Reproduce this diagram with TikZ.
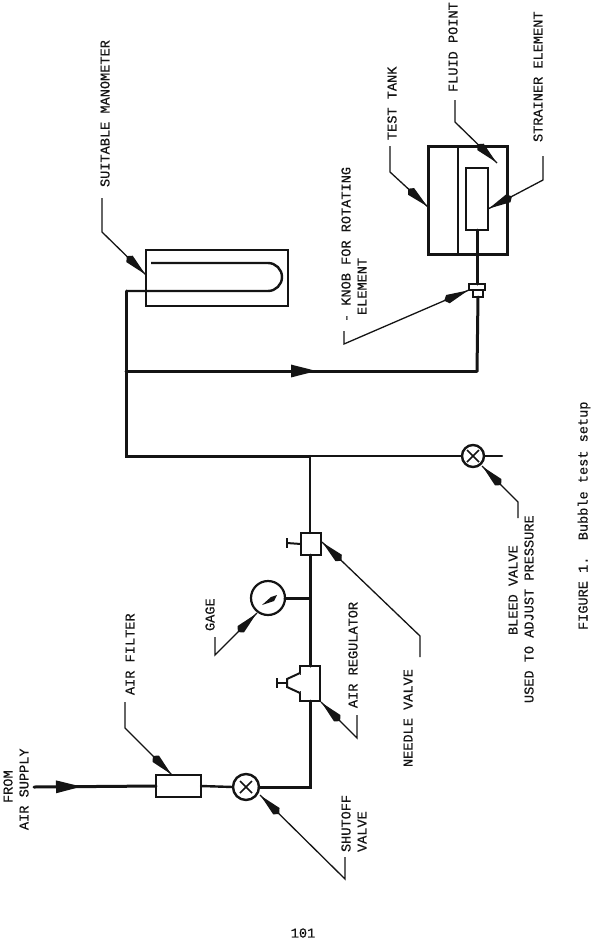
\documentclass[tikz,border=0pt]{standalone}
\usepackage{fontspec}
\newfontfamily\labfont[FakeBold=0.35]{Liberation Mono}
\usetikzlibrary{arrows.meta,decorations.markings}
\definecolor{ink}{HTML}{141414}
\tikzset{
  pipe/.style={draw=ink,line width=3pt,line cap=round,line join=miter},
  box/.style={draw=ink,line width=2.4pt,fill=white,inner sep=0,outer sep=0},
  leaderline/.style={draw=ink,line width=1.3pt,line join=miter},
  leader/.style={leaderline,postaction={decorate},decoration={markings,
     mark=at position #1 with {\arrow[ink]{Kite[length=26pt,width=9pt,inset=4pt]}}}},
  lab/.style={font=\labfont\fontsize{13.6}{13.6}\selectfont,text=ink,rotate=90,anchor=west,inner sep=0,outer sep=0},
  flow/.style={pipe,postaction={decorate},decoration={markings,
     mark=at position #1 with {\arrow[ink]{Triangle[length=26pt,width=12pt]}}}},
  valve/.style={circle,draw=ink,line width=2.4pt,fill=white,minimum size=26pt,inner sep=0,outer sep=0},
}
\begin{document}
\begin{tikzpicture}[x=1pt,y=-1pt]
\useasboundingbox (0,0) rectangle (593,940);
\fill[white] (0,0) rectangle (593,940);

% named junctions
\coordinate (in) at (34,787);
\coordinate (corner) at (310,787);
\coordinate (tee) at (310,456);
\coordinate (left) at (126,456);
\coordinate (branch) at (126,371);
\coordinate (manoIn) at (126,291);
\coordinate (branchR) at (477,371);
\coordinate (bleedEnd) at (502,456);

% main nodes
\node[box,minimum width=45pt,minimum height=22pt] (filter) at (178.5,786) {};
\node[valve] (shutoff) at (246,787) {};
\node[box,minimum width=20pt,minimum height=35pt] (reg) at (310,683.5) {};
\node[box,minimum width=20pt,minimum height=22pt] (needle) at (311,544) {};
\node[circle,draw=ink,line width=2.2pt,fill=white,minimum size=34pt,inner sep=0,outer sep=0] (gage) at (268,598) {};
\node[valve,minimum size=22pt] (bleed) at (473,456) {};
\node[box,line width=2.6pt,minimum width=142pt,minimum height=56pt] (mano) at (217,278) {};
\node[box,line width=3pt,minimum width=79pt,minimum height=108pt] (tank) at (467.5,200) {};
\node[box,minimum width=22pt,minimum height=62pt] (strainer) at (477,199) {};
\node[box,line width=1.8pt,minimum width=10pt,minimum height=8pt] (knobB) at (478,293) {};
\node[box,line width=1.8pt,minimum width=16pt,minimum height=6pt] (knobT) at (477,287) {};

% pipes
\draw[flow=48pt] (in) -- (filter.west);
\draw[pipe,line width=2.4pt] (filter.east) -- (shutoff.west);
\draw[pipe] (shutoff.east) -- (corner) -- (reg.south);
\draw[pipe] (reg.north) -- (needle.south -| reg.north);
\draw[pipe,line width=2.4pt] (needle.north -| reg.north) -- (tee);
\draw[pipe] (gage.east) -- (310,598);
\draw[pipe,line width=2.4pt] (tee) -- (bleed.west);
\draw[pipe,line width=2.4pt] (bleed.east) -- (bleedEnd);
\draw[pipe] (tee) -- (left) -- (manoIn);
\draw[flow=191pt] (branch) -- (branchR);
\draw[pipe] (branchR) -- (knobB.south);
\draw[pipe] (knobT.north) -- (tank.south -| knobT.north);
\draw[pipe] (tank.south -| knobT.north) -- (strainer.south);

% manometer tube
\draw[pipe,line width=2.4pt,line cap=butt] (manoIn) -- (268,291) arc[start angle=-90,end angle=90,radius=14pt] -- (151,263);

% tank fluid level
\draw[draw=ink,line width=1.8pt] (458,146) -- (458,254);

% gage needle
\draw[draw=none,fill=ink] (262,605) -- (271,597) -- (277,595) -- (274,601) -- cycle;

% shutoff and bleed crosses
\foreach \v in {shutoff,bleed}{
  \draw[draw=ink,line width=1.5pt] (\v.center) ++(-6,-6) -- ++(12,12);
  \draw[draw=ink,line width=1.5pt] (\v.center) ++(6,-6) -- ++(-12,12);
}

% needle valve handle
\coordinate (nh) at (287,543);
\draw[draw=ink,line width=2pt] (needle.west) -- (nh);
\draw[draw=ink,line width=2pt] (287,538) -- (287,548);

% regulator neck and handle
\coordinate (rh) at (277,683);
\draw[draw=ink,line width=2pt,fill=white] (300,673) -- (287,679) -- (287,687) -- (300,693);
\draw[draw=white,line width=2.4pt] (300,675) -- (300,691);
\draw[draw=ink,line width=2pt] (287,683) -- (rh);
\draw[draw=ink,line width=2pt] (277,678) -- (277,688);

% leaders
\coordinate (l1a) at (125,702); \coordinate (l1b) at (125,728);
\draw[leader=-1pt] (l1a) -- (l1b) -- (172,775);
\coordinate (l2a) at (345,857); \coordinate (l2b) at (345,879);
\draw[leader=-1pt] (l2a) -- (l2b) -- (260,795);
\coordinate (l3a) at (357,715); \coordinate (l3b) at (357,738);
\draw[leader=-1pt] (l3a) -- (l3b) -- (321,702);
\coordinate (l4a) at (215,637); \coordinate (l4b) at (215,655);
\draw[leader=-1pt] (l4a) -- (l4b) -- (257,613);
\coordinate (l5a) at (420,657); \coordinate (l5b) at (420,636);
\draw[leader=-1pt] (l5a) -- (l5b) -- (322,542);
\coordinate (l6a) at (518,518); \coordinate (l6b) at (518,502);
\draw[leader=-1pt] (l6a) -- (l6b) -- (482,466);
\coordinate (l7a) at (102,198); \coordinate (l7b) at (102,232);
\draw[leader=-1pt] (l7a) -- (l7b) -- (146,275);
\coordinate (l8a) at (344,331); \coordinate (l8b) at (344,344);
\draw[leader=-1pt] (l8a) -- (l8b) -- (469,290);
\coordinate (l9a) at (390,146); \coordinate (l9b) at (390,172);
\draw[leader=-1pt] (l9a) -- (l9b) -- (428,207);
\coordinate (l10a) at (455,100); \coordinate (l10b) at (455,122);
\draw[leader=-1pt] (l10a) -- (l10b) -- (497,163);
\coordinate (l11a) at (543,156); \coordinate (l11b) at (543,180);
\draw[leader=-1pt] (l11a) -- (l11b) -- (488,209);

% labels
\node[lab] (tFrom) at (8,803) {FROM};
\node[lab] (tSupply) at (24,830) {AIR SUPPLY};
\node[lab] (tFilter) at (130,695) {AIR FILTER};
\node[lab] (tShut) at (346,852) {SHUTOFF};
\node[lab] (tShutV) at (362,852) {VALVE};
\node[lab] (tReg) at (353,708) {AIR REGULATOR};
\node[lab] (tGage) at (210,631) {GAGE};
\node[lab] (tNeedle) at (408,767) {NEEDLE VALVE};
\node[lab] (tBleed) at (513,635) {BLEED VALVE};
\node[lab] (tAdjust) at (529,703) {USED TO ADJUST PRESSURE};
\node[lab] (tCap) at (584,630) {FIGURE 1.\ \ Bubble test setup};
\node[lab] (tMano) at (105,187) {SUITABLE MANOMETER};
\node[lab] (tKnob) at (346,322) {- KNOB FOR ROTATING};
\node[lab] (tElem) at (362,315) {ELEMENT};
\node[lab] (tTank) at (392,140) {TEST TANK};
\node[lab] (tFluid) at (453,92) {FLUID POINT};
\node[lab] (tStrain) at (538,142) {STRAINER ELEMENT};
\node[font=\labfont\fontsize{13.6}{13.6}\selectfont,text=ink,inner sep=0] (tPage) at (303,933) {101};
\end{tikzpicture}
\end{document}
